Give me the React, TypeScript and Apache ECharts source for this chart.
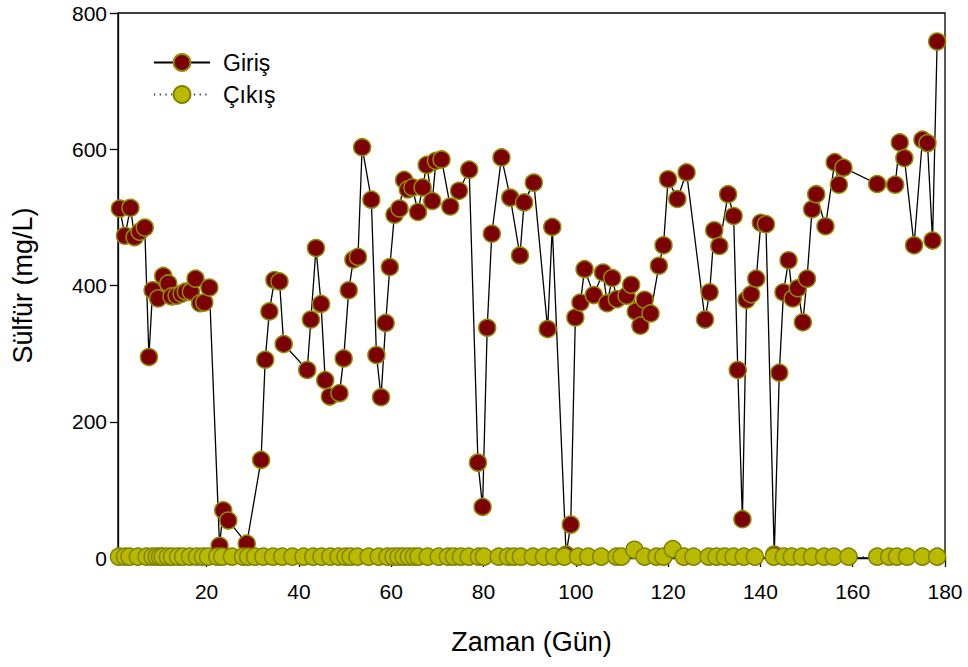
import React, { useEffect, useRef } from "react";
import * as echarts from "echarts";

const girisDays = [
  1.2, 2.3, 3.5, 4.4, 5.5, 6.6, 7.5, 8.3, 9.5, 10.6, 11.7, 12.4, 13.5, 14.6, 15.5, 16.6, 17.6, 18.6, 19.5, 20.6,
  22.8, 23.6, 24.7, 28.7, 31.8, 32.7, 33.6, 34.7, 35.8, 36.7, 41.8, 42.6, 43.7, 44.8, 45.7, 46.7, 48.8, 49.7,
  50.8, 51.8, 52.8, 53.7, 55.7, 56.8, 57.8, 58.8, 59.7, 60.7, 61.8, 62.8, 63.6, 64.6, 65.8, 66.8, 67.7, 68.9,
  69.7, 70.9, 72.8, 74.7, 76.9, 78.8, 79.8, 80.8, 81.8, 83.9, 85.8, 87.9, 88.8, 90.9, 93.9, 94.9, 97.9, 98.9,
  99.9, 101.0, 101.9, 103.9, 105.9, 106.8, 107.9, 108.9, 111.0, 112.0, 113.0, 114.0, 114.9, 116.2, 118.0,
  119.0, 120.0, 122.0, 124.0, 128.0, 129.0, 130.0, 131.1, 133.0, 134.2, 135.1, 136.1, 137.0, 138.0, 139.1,
  140.1, 141.2, 143.0, 144.1, 145.0, 146.1, 147.0, 148.1, 149.2, 150.1, 151.2, 152.1, 154.1, 156.1, 157.0,
  158.0, 165.3, 169.2, 170.2, 171.2, 173.3, 175.1, 176.2, 177.3, 178.3,
];
const girisValues = [
  513, 473, 514, 471, 479, 485, 295, 393, 381, 414, 403, 384, 385, 388, 391, 391, 410, 374, 375, 397,
  18, 70, 55, 21, 144, 291, 362, 408, 406, 314, 276, 350, 455, 373, 261, 237, 242, 293,
  393, 438, 442, 603, 526, 298, 236, 345, 427, 504, 513, 555, 541, 544, 508, 544, 577, 524,
  583, 585, 516, 539, 570, 140, 75, 338, 476, 588, 529, 444, 522, 551, 336, 486, 5, 49,
  353, 375, 424, 386, 419, 374, 411, 380, 385, 401, 362, 341, 379, 359, 429,
  459, 556, 527, 566, 350, 390, 481, 458, 534, 502, 276, 57, 379, 387, 410,
  492, 490, 5, 272, 390, 437, 381, 396, 346, 410, 512, 534, 487, 581, 548,
  573, 549, 548, 610, 587, 459, 614, 609, 466, 758,
];

const cikisDays = [
  1.0, 2.3, 3.3, 5.1, 7.0, 8.3, 9.2, 9.9, 10.5, 11.6, 12.5, 13.8, 14.9, 16.4, 17.9, 19.2, 20.3, 22.3, 23.4,
  25.5, 27.9, 29.0, 30.5, 32.3, 34.4, 36.4, 38.6, 41.0, 43.1, 44.9, 46.8, 48.6, 50.1, 51.2, 52.7, 55.1, 57.3,
  59.2, 60.5, 61.6, 62.7, 63.8, 64.9, 65.9, 67.9, 70.3, 72.3, 73.6, 75.1, 76.8, 79.0, 80.1, 83.3, 85.3, 86.6,
  88.1, 90.7, 93.1, 95.3, 97.5, 100.5, 102.7, 105.5, 108.8, 109.9, 112.7, 114.9, 117.5, 119.0, 121.0, 123.4,
  125.5, 128.8, 130.5, 132.3, 134.2, 136.4, 138.8, 142.9, 145.1, 146.8, 149.0, 151.2, 153.8, 155.9, 159.1,
  165.3, 167.9, 169.6, 171.8, 175.1, 178.3,
];
const cikisValues = [
  2, 2, 2, 2, 2, 2, 2, 2, 2, 2, 2, 2, 2, 2, 2, 2, 2, 2, 2,
  2, 2, 2, 2, 2, 2, 2, 2, 2, 2, 2, 2, 2, 2, 2, 2, 2, 2,
  2, 2, 2, 2, 2, 2, 2, 2, 2, 2, 2, 2, 2, 2, 2, 2, 2, 2,
  2, 2, 2, 2, 2, 2, 2, 2, 2, 2, 12, 2, 2, 2, 13, 2,
  2, 2, 2, 2, 2, 2, 2, 2, 2, 2, 2, 2, 2, 2, 2,
  2, 2, 2, 2, 2, 2,
];

const xTickValues = [20, 40, 60, 80, 100, 120, 140, 160, 180];
const seriesNames = ["Giriş", "Çıkış"];
const xTitle = "Zaman (Gün)";
const yTitle = "Sülfür (mg/L)";

const FONT = "Arial, 'Liberation Sans', Helvetica, sans-serif";

export default function App() {
  const ref = useRef<HTMLDivElement>(null);
  useEffect(() => {
    const chart = echarts.init(ref.current!, null, { renderer: "svg" });
    const giris = girisDays.map((d, i) => [d, girisValues[i]]);
    const cikis = cikisDays.map((d, i) => [d, cikisValues[i]]);
    chart.setOption({
      animation: false,
      backgroundColor: "#ffffff",
      textStyle: { fontFamily: FONT, color: "#000" },
      grid: {
        left: 118,
        right: 23,
        top: 13,
        bottom: 109,
        show: true,
        borderColor: "#000",
        borderWidth: 1.3,
        backgroundColor: "transparent",
      },
      legend: {
        data: seriesNames,
        orient: "vertical",
        left: 148,
        top: 46,
        itemWidth: 56,
        itemHeight: 21,
        itemGap: 9,
        textStyle: { fontSize: 23, color: "#000", fontFamily: FONT, padding: [0, 0, 0, 8] },
      },
      xAxis: {
        type: "value",
        min: 0.8,
        max: 180,
        axisLine: { show: true, onZero: false, lineStyle: { color: "#000", width: 1.3 } },
        axisTick: { show: true, customValues: xTickValues, length: 9, lineStyle: { color: "#000", width: 1.3 } },
        axisLabel: { customValues: xTickValues, fontSize: 21, color: "#000", margin: 23, fontFamily: FONT },
        splitLine: { show: false },
        name: xTitle,
        nameLocation: "middle",
        nameGap: 70,
        nameTextStyle: { fontSize: 27, color: "#000", fontFamily: FONT },
      },
      yAxis: {
        type: "value",
        min: 0,
        max: 800,
        interval: 200,
        axisLine: { show: true, lineStyle: { color: "#000", width: 1.3 } },
        axisTick: { show: true, length: 8, lineStyle: { color: "#000", width: 1.3 } },
        axisLabel: { fontSize: 21, color: "#000", margin: 11, fontFamily: FONT },
        splitLine: { show: false },
        name: yTitle,
        nameLocation: "middle",
        nameGap: 82,
        nameTextStyle: { fontSize: 27, color: "#000", fontFamily: FONT },
      },
      series: [
        {
          name: seriesNames[0],
          type: "line",
          data: giris,
          symbol: "circle",
          symbolSize: 17,
          showAllSymbol: true,
          lineStyle: { color: "#000", width: 1.3 },
          itemStyle: { color: "#7d0000", borderColor: "#8f8f00", borderWidth: 1.5 },
          emphasis: { disabled: true },
          z: 2,
        },
        {
          name: seriesNames[1],
          type: "line",
          data: cikis,
          symbol: "circle",
          symbolSize: 17,
          showAllSymbol: true,
          lineStyle: { color: "#333", width: 1, type: [1.2, 4.5] },
          itemStyle: { color: "#b9b900", borderColor: "#828200", borderWidth: 1.5 },
          emphasis: { disabled: true },
          z: 3,
        },
      ],
    });
    return () => chart.dispose();
  }, []);
  return (
    <div
      ref={ref}
      style={{ position: "absolute", left: 0, top: 0, width: 968, height: 667, background: "#fff" }}
    />
  );
}
